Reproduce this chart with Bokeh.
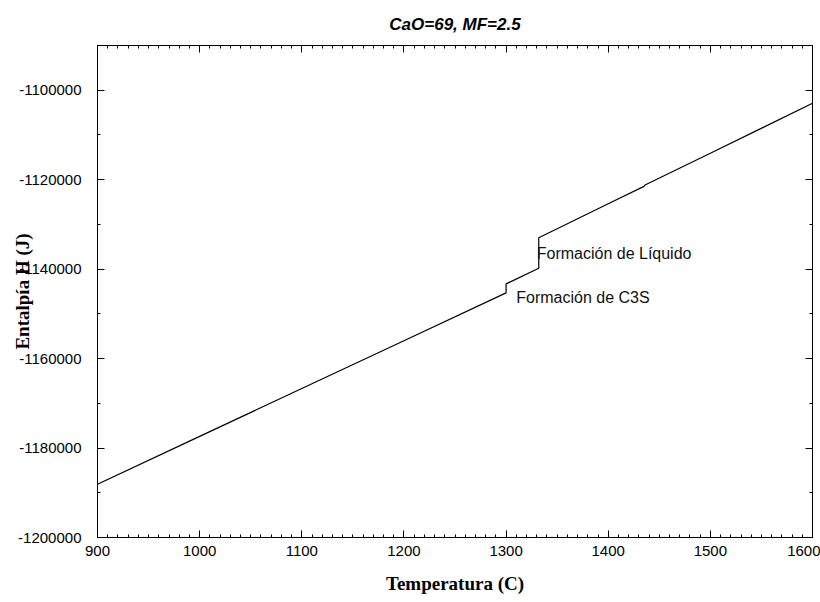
import math
from bokeh.plotting import figure
from bokeh.models import (LinearAxis, SingleIntervalTicker, CustomJSTickFormatter,
                          Label, Range1d)
from bokeh.embed import file_html
from bokeh.resources import INLINE

# ---- data ----
temperature = [900, 1000, 1100, 1200, 1300, 1300, 1332, 1332, 1400, 1435, 1436, 1500, 1600]
enthalpy = [-1188100, -1177400, -1166700, -1156000, -1145300, -1143300, -1139800,
            -1133000, -1125400, -1121500, -1121200, -1114100, -1102900]

note_text = ["Formación de Líquido", "Formación de C3S"]
note_x = [1330, 1310]
note_y = [-1136400, -1146250]

title_text = "CaO=69, MF=2.5"
x_label = "Temperatura (C)"
y_label = "Entalpía H (J)"

x_start, x_end = 900, 1600
y_start, y_end = -1200000, -1090000

p = figure(width=820, height=602, output_backend="svg", toolbar_location=None,
           x_range=Range1d(x_start, x_end), y_range=Range1d(y_start, y_end),
           x_axis_location=None, y_axis_location=None,
           min_border_left=97, min_border_right=8, min_border_top=45, min_border_bottom=65,
           title=title_text)
p.grid.visible = False
p.outline_line_color = "black"
p.background_fill_color = "white"
p.border_fill_color = "white"

p.title.align = "center"
p.title.text_font = "Liberation Sans"
p.title.text_font_style = "bold italic"
p.title.text_font_size = "17px"
p.title.text_color = "black"
p.title.standoff = 23

def style_axis(ax, labels):
    ax.axis_line_color = "black"
    ax.major_tick_line_color = "black"
    ax.minor_tick_line_color = "black"
    ax.major_tick_in = 7
    ax.major_tick_out = 0
    ax.minor_tick_in = 3
    ax.minor_tick_out = 0
    if labels:
        ax.major_label_text_font = "Liberation Sans"
        ax.major_label_text_font_size = "15px"
        ax.major_label_text_color = "black"
        ax.formatter = CustomJSTickFormatter(code="return tick.toFixed(0)")
    else:
        ax.formatter = CustomJSTickFormatter(code="return ''")
        ax.major_label_standoff = 0

xt = lambda: SingleIntervalTicker(interval=100, num_minor_ticks=10)
yt = lambda: SingleIntervalTicker(interval=20000, num_minor_ticks=2)

bottom = LinearAxis(ticker=xt(), axis_label=x_label)
style_axis(bottom, True)
bottom.major_label_standoff = 8
bottom.axis_label_text_font = "Liberation Serif"
bottom.axis_label_text_font_style = "bold"
bottom.axis_label_text_font_size = "19px"
bottom.axis_label_text_color = "black"
bottom.axis_label_standoff = 14
p.add_layout(bottom, "below")

left = LinearAxis(ticker=yt(), axis_label=y_label)
style_axis(left, True)
left.major_label_standoff = 16
left.axis_label_text_font = "Liberation Serif"
left.axis_label_text_font_style = "bold"
left.axis_label_text_font_size = "19px"
left.axis_label_text_color = "black"
left.axis_label_standoff = -18
p.add_layout(left, "left")

top = LinearAxis(ticker=xt())
style_axis(top, False)
p.add_layout(top, "above")

right = LinearAxis(ticker=yt())
style_axis(right, False)
p.add_layout(right, "right")

p.line(temperature, enthalpy, line_color="black", line_width=1.2)

for t, x, y in zip(note_text, note_x, note_y):
    p.add_layout(Label(x=x, y=y, text=t, text_font="Liberation Sans", text_font_size="16px",
                       text_color="#111111", text_align="left", text_baseline="middle"))

open("out.html", "w").write(file_html(p, INLINE))
